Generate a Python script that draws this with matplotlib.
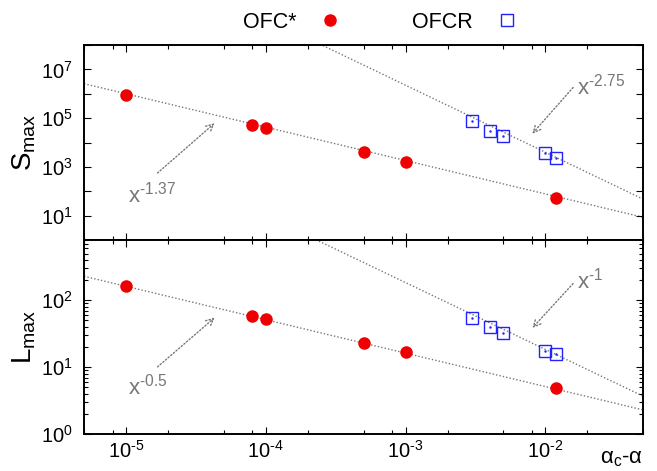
import numpy as np
import matplotlib
matplotlib.use("Agg")
import matplotlib.pyplot as plt
from matplotlib.ticker import LogLocator, FixedLocator, NullFormatter

plt.rcParams['font.family'] = ['Liberation Sans', 'DejaVu Sans']
plt.rcParams['mathtext.fontset'] = 'custom'
plt.rcParams['mathtext.rm'] = 'Liberation Sans'
plt.rcParams['mathtext.it'] = 'Liberation Sans'
plt.rcParams['mathtext.default'] = 'regular'

# OFC* data
x_ofc = [1e-5, 8e-5, 1e-4, 5e-4, 1e-3, 1.2e-2]
s_ofc = [9.3e5, 5.1e4, 3.9e4, 4.1e3, 1.55e3, 54]
l_ofc = [162, 59, 53, 23.4, 17, 4.9]

# OFCR data
x_ofcr = [3e-3, 4e-3, 5e-3, 1e-2, 1.2e-2]
s_ofcr = [7.5e4, 2.9e4, 1.86e4, 3.7e3, 2.4e3]
l_ofcr = [54, 40, 32, 17.3, 15.5]

# power-law guides: (log10 prefactor, exponent)
fit_s_ofc = (-0.85, -1.37)
fit_s_ofcr = (-1.9, -2.75)
fit_l_ofc = (-0.29, -0.5)
fit_l_ofcr = (-0.734, -1.0)

xlim = (5e-6, 5e-2)
red = '#ee0000'
blue = '#2222ff'
gray = '#777777'


def pow10(v, pos=None):
    k = int(round(np.log10(v)))
    if k < 0:
        return r'$10^{\text{-}%d}$' % (-k)
    return r'$10^{%d}$' % k


fig = plt.figure(figsize=(6.57, 4.71), dpi=100)
W, H = 657.0, 471.0
ax1 = fig.add_axes([84/W, 1-240/H, 559/W, 195/H])
ax2 = fig.add_axes([84/W, 1-434/H, 559/W, 194/H])

xx = np.logspace(np.log10(xlim[0]), np.log10(xlim[1]), 200)
dots = (0, (1, 1.5))

for ax, ys_ofc, ys_ofcr, f1, f2 in [(ax1, s_ofc, s_ofcr, fit_s_ofc, fit_s_ofcr),
                                    (ax2, l_ofc, l_ofcr, fit_l_ofc, fit_l_ofcr)]:
    for c, p in (f1, f2):
        ax.plot(xx, 10**c * xx**p, ls=dots, color=gray, lw=1.0, zorder=1)
    ax.plot(x_ofc, ys_ofc, 'o', color=red, ms=8, mec=red, ls='none',
            label='OFC*', zorder=3)
    ax.plot(x_ofcr, ys_ofcr, 's', mfc='none', mec=blue, mew=1.0, ms=8,
            ls='none', label='OFCR', zorder=3)
    ax.plot(x_ofcr, ys_ofcr, '.', color=blue, ms=1.5, ls='none', zorder=3)
    ax.set_xscale('log')
    ax.set_yscale('log')
    ax.set_xlim(*xlim)
    ax.xaxis.set_major_locator(LogLocator(base=10, numticks=20))
    ax.xaxis.set_major_formatter(pow10)
    ax.xaxis.set_minor_locator(LogLocator(base=10, subs=(2.0, 5.0, 8.0), numticks=20))
    ax.xaxis.set_minor_formatter(NullFormatter())
    ax.tick_params(which='both', direction='in', top=True, right=True,
                   labelsize=14.5, width=0.8)
    ax.tick_params(which='major', length=5)
    ax.tick_params(which='minor', length=3)
    ax.tick_params(axis='x', pad=4)
    ax.tick_params(axis='y', pad=8)
    for sp in ax.spines.values():
        sp.set_linewidth(1.4)

# top panel axes
ax1.set_ylim(1, 1e8)
ax1.yaxis.set_major_locator(FixedLocator([10.0**k for k in range(0, 9)]))
ax1.yaxis.set_major_formatter(lambda v, pos: pow10(v) if round(np.log10(v)) % 2 == 1 else '')
ax1.yaxis.set_minor_locator(FixedLocator([]))
ax1.tick_params(axis='x', labelbottom=False)
ax1.set_ylabel('S$_{max}$', fontsize=20)
ax1.yaxis.set_label_coords(-0.082, 0.5)

# bottom panel axes
ax2.set_ylim(1, 800)
ax2.yaxis.set_major_locator(LogLocator(base=10, numticks=10))
ax2.yaxis.set_major_formatter(pow10)
ax2.yaxis.set_minor_locator(LogLocator(base=10, subs=np.arange(2, 10), numticks=10))
ax2.yaxis.set_minor_formatter(NullFormatter())
ax2.set_ylabel('L$_{max}$', fontsize=20)
ax2.yaxis.set_label_coords(-0.082, 0.5)
fig.text(643/W, 2/H, r'$\alpha_c$-$\alpha$', fontsize=16,
         ha='right', va='bottom')

# annotations
arrow = dict(arrowstyle='->', linestyle=dots, color=gray, lw=1.0,
             shrinkA=0, shrinkB=0, mutation_scale=13)
ax1.annotate('', xy=(4.3e-5, 6.2e4), xytext=(1.68e-5, 560), arrowprops=arrow)
ax1.text(1.04e-5, 34, r'$x^{\text{-}1.37}$', color=gray, fontsize=16, ha='left', va='baseline')
ax1.annotate('', xy=(8.07e-3, 2.3e4), xytext=(1.58e-2, 1.8e6), arrowprops=arrow)
ax1.text(1.68e-2, 9e5, r'$x^{\text{-}2.75}$', color=gray, fontsize=16, ha='left', va='baseline')

ax2.annotate('', xy=(4.3e-5, 55), xytext=(1.68e-5, 10.1), arrowprops=arrow)
ax2.text(1.04e-5, 3.95, r'$x^{\text{-}0.5}$', color=gray, fontsize=16, ha='left', va='baseline')
ax2.annotate('', xy=(8.07e-3, 38.6), xytext=(1.58e-2, 178), arrowprops=arrow)
ax2.text(1.68e-2, 150, r'$x^{\text{-}1}$', color=gray, fontsize=16, ha='left', va='baseline')

handles, labels = ax1.get_legend_handles_labels()
fig.legend(handles, labels, loc='center', bbox_to_anchor=(0.579, 0.953), ncol=2,
           frameon=False, markerfirst=False, fontsize=15.5, handlelength=1.0,
           handletextpad=1.1, columnspacing=3.3)

fig.savefig('out.png', dpi=100)
